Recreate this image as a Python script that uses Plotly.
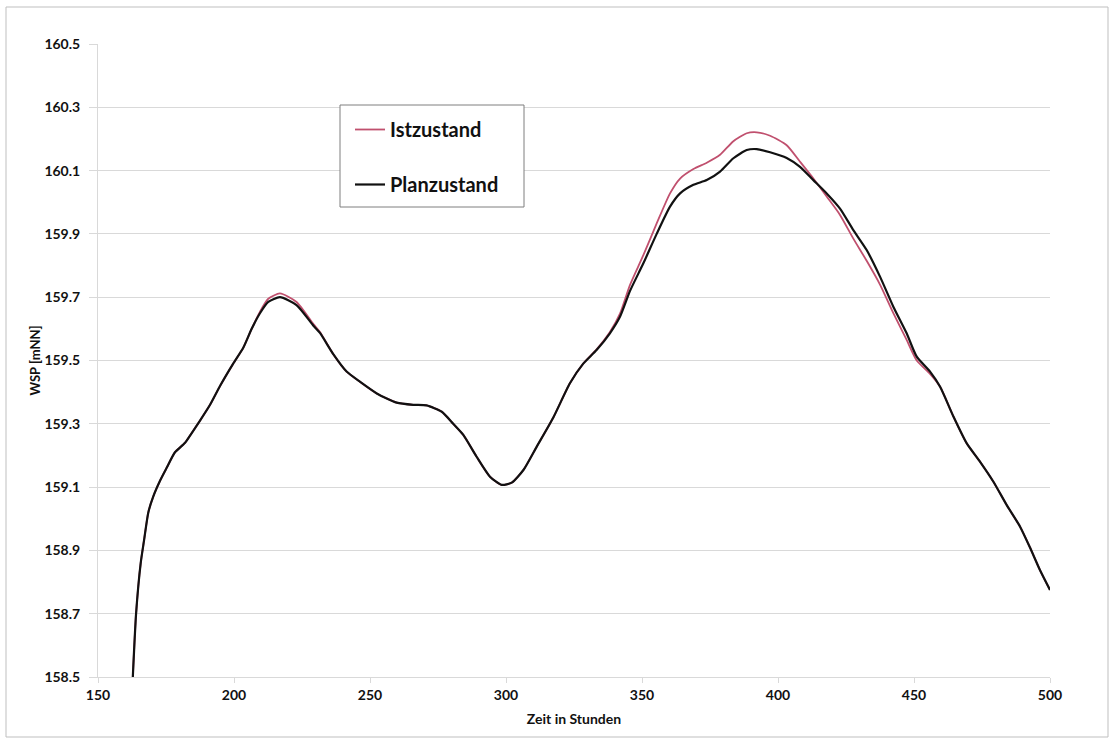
import plotly.graph_objects as go

# Zeit in Stunden (gemeinsame Stützstellen beider Ganglinien)
zeit = [162.8, 164.0, 165.7, 166.9, 168.5, 170.3, 172.8, 175.2, 178.3, 182.0,
        184.4, 187.5, 191.2, 194.9, 199.7, 203.4, 206.5, 209.6, 212.6, 216.9,
        223.0, 229.2, 231.6, 236.5, 241.4, 246.3, 252.5, 259.8, 265.9, 270.8,
        276.4, 280.6, 284.3, 289.2, 294.1, 298.4, 302.1, 306.4, 311.3, 317.4,
        323.5, 328.4, 333.3, 338.2, 341.9, 345.6, 350.5, 355.4, 360.3, 364.0,
        368.9, 373.8, 378.7, 383.6, 388.5, 392.2, 397.1, 403.2, 408.1, 413.0,
        417.9, 422.8, 427.7, 432.6, 437.5, 442.4, 447.3, 451.0, 455.9, 459.6,
        464.5, 469.4, 474.3, 479.2, 484.1, 489.0, 492.6, 496.3, 500.0]

# Wasserspiegel Planzustand [mNN]
wsp_plan = [158.50, 158.70, 158.86, 158.93, 159.02, 159.07, 159.12, 159.16, 159.21, 159.24,
            159.27, 159.31, 159.36, 159.42, 159.49, 159.54, 159.60, 159.65, 159.685, 159.700,
            159.675, 159.61, 159.587, 159.52, 159.465, 159.433, 159.396, 159.367, 159.360, 159.358,
            159.338, 159.300, 159.265, 159.196, 159.133, 159.107, 159.114, 159.154, 159.228, 159.320,
            159.428, 159.490, 159.533, 159.586, 159.638, 159.720, 159.807, 159.900, 159.986, 160.028,
            160.055, 160.070, 160.097, 160.139, 160.165, 160.168, 160.158, 160.140, 160.112, 160.070,
            160.028, 159.980, 159.912, 159.849, 159.765, 159.670, 159.586, 159.512, 159.465, 159.417,
            159.323, 159.238, 159.180, 159.117, 159.043, 158.975, 158.910, 158.838, 158.775]

# Wasserspiegel Istzustand [mNN]
wsp_ist = [158.50, 158.70, 158.86, 158.93, 159.02, 159.07, 159.12, 159.16, 159.21, 159.24,
           159.27, 159.31, 159.36, 159.42, 159.49, 159.54, 159.60, 159.655, 159.695, 159.712,
           159.685, 159.615, 159.590, 159.52, 159.465, 159.433, 159.396, 159.367, 159.360, 159.358,
           159.338, 159.300, 159.265, 159.196, 159.133, 159.107, 159.114, 159.154, 159.228, 159.320,
           159.428, 159.490, 159.535, 159.590, 159.648, 159.739, 159.833, 159.933, 160.028, 160.075,
           160.105, 160.125, 160.150, 160.193, 160.218, 160.221, 160.210, 160.180, 160.128, 160.075,
           160.018, 159.960, 159.885, 159.815, 159.740, 159.650, 159.565, 159.500, 159.458, 159.417,
           159.323, 159.238, 159.180, 159.117, 159.043, 158.975, 158.910, 158.838, 158.775]

x_ticks = [150, 200, 250, 300, 350, 400, 450, 500]
y_ticks = [158.5, 158.7, 158.9, 159.1, 159.3, 159.5, 159.7, 159.9, 160.1, 160.3, 160.5]

FONT = "Lato"
GRID = "#D9D9D9"

# plot area in pixels (left, right, top, bottom)
PL, PR, PT, PB = 98, 1050, 44, 677
PW, PH = PR - PL, PB - PT


def px_x(p):
    return (p - PL) / PW


def px_y(p):
    return (PB - p) / PH


fig = go.Figure()
fig.add_trace(go.Scatter(
    x=zeit, y=wsp_ist, mode="lines", name="Istzustand", legendgroup="ist",
    line=dict(color="#C0506E", width=1.8, shape="spline", smoothing=0.6),
))
fig.add_trace(go.Scatter(
    x=zeit, y=wsp_plan, mode="lines", name="Planzustand", legendgroup="plan",
    line=dict(color="#111111", width=2.2, shape="spline", smoothing=0.6),
))

fig.update_layout(
    width=1114, height=742,
    margin=dict(l=PL, r=1114 - PR, t=PT, b=742 - PB),
    paper_bgcolor="white", plot_bgcolor="white",
    font=dict(family=FONT, color="#111111"),
    showlegend=True,
    legend=dict(
        x=px_x(350), y=px_y(110), xanchor="left", yanchor="top",
        borderwidth=0, bgcolor="rgba(0,0,0,0)",
        font=dict(family=FONT, size=20, color="#111111", weight="bold"),
        tracegroupgap=26, traceorder="grouped",
        itemwidth=30,
    ),
    xaxis=dict(
        range=[150, 500], tickvals=x_ticks, ticktext=[str(v) for v in x_ticks],
        showgrid=False, zeroline=False,
        showline=True, linecolor=GRID, linewidth=1,
        ticks="outside", ticklen=5, tickcolor=GRID,
        tickfont=dict(family=FONT, size=14, weight="bold"),
        title=dict(text="Zeit in Stunden", font=dict(family=FONT, size=14, weight="bold"), standoff=12),
    ),
    yaxis=dict(
        range=[158.5, 160.5], tickvals=y_ticks, ticktext=[f"{v:.1f}" for v in y_ticks],
        showgrid=True, gridcolor=GRID, gridwidth=1, zeroline=False,
        showline=True, linecolor=GRID, linewidth=1,
        ticks="outside", ticklen=8, tickcolor=GRID, ticklabelstandoff=6,
        tickfont=dict(family=FONT, size=14, weight="bold"),
        title=dict(text="WSP [mNN]", font=dict(family=FONT, size=13, weight="bold"), standoff=0),
    ),
    shapes=[
        # outer frame of the chart
        dict(type="rect", xref="paper", yref="paper",
             x0=px_x(6), x1=px_x(1108), y0=px_y(737), y1=px_y(7),
             line=dict(color="#BFBFBF", width=1), fillcolor="rgba(0,0,0,0)", layer="below"),
        # legend frame
        dict(type="rect", xref="paper", yref="paper",
             x0=px_x(340), x1=px_x(524), y0=px_y(207), y1=px_y(105),
             line=dict(color="#7F7F7F", width=1), fillcolor="white", layer="above"),
    ],
)

fig.write_html("out.html")
